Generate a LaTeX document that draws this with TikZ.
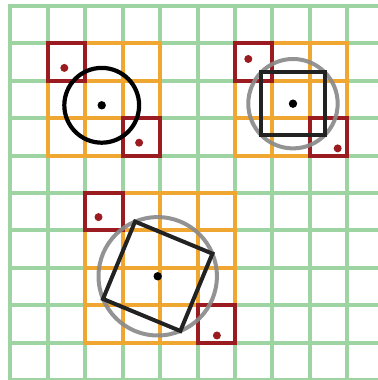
\documentclass[tikz,border=0pt]{standalone}
\usetikzlibrary{calc}
\definecolor{gridgreen}{RGB}{158,212,162}
\definecolor{blockorange}{RGB}{240,167,50}
\definecolor{cellred}{RGB}{155,28,32}
\definecolor{ringgray}{RGB}{138,138,138}
\definecolor{shapeblack}{RGB}{34,34,34}
\tikzset{
  gridline/.style={draw=gridgreen, line width=4pt, line cap=rect},
  blockline/.style={draw=blockorange, line width=4pt, line cap=rect},
  redcell/.style={draw=cellred, line width=4pt, line join=miter},
  reddot/.style={fill=cellred},
  ctrdot/.style={fill=black},
  ring/.style={draw=ringgray, line width=4pt, opacity=0.92},
  blackshape/.style={draw=shapeblack, line width=4pt, line join=miter},
}
\begin{document}
\begin{tikzpicture}[x=37.4pt, y=-37.4pt]
\useasboundingbox (-0.2807,-0.1604) rectangle (9.826,10);
\clip (-0.2807,-0.1604) rectangle (9.826,10);
% green grid
\foreach \i in {0,...,10} {
  \draw[gridline] (\i,0) -- (\i,10.3);
  \draw[gridline] (0,\i) -- (10.3,\i);
}
% ---- top-left cluster ----
\coordinate (c1) at (2.439,2.655);
\foreach \k in {1,...,4} {
  \draw[blockline] (\k,1) -- (\k,4);
  \draw[blockline] (1,\k) -- (4,\k);
}
\draw[redcell] (1,1) rectangle (2,2);
\draw[redcell] (3,3) rectangle (4,4);
\draw[draw=black, line width=4.2pt] (c1) circle[radius=37.4pt];
\fill[ctrdot] (c1) circle[radius=4.2pt];
\fill[reddot] ($(c1)+(-1,-1)$) circle[radius=4pt];
\fill[reddot] ($(c1)+(1,1)$) circle[radius=4pt];
% ---- top-right cluster ----
\coordinate (c2) at (7.553,2.612);
\foreach \k in {6,...,9} {
  \draw[blockline] (\k,1) -- (\k,4);
}
\foreach \k in {1,...,4} {
  \draw[blockline] (6,\k) -- (9,\k);
}
\draw[redcell] (6,1) rectangle (7,2);
\draw[redcell] (8,3) rectangle (9,4);
\draw[ring] (c2) circle[radius=44.7pt];
\draw[blackshape] ($(c2)+(-0.845,-0.845)$) rectangle ($(c2)+(0.845,0.845)$);
\fill[ctrdot] (c2) circle[radius=4.2pt];
\fill[reddot] ($(c2)+(-1.195,-1.195)$) circle[radius=4pt];
\fill[reddot] ($(c2)+(1.195,1.195)$) circle[radius=4pt];
% ---- bottom cluster ----
\coordinate (c3) at (3.936,7.227);
\foreach \k in {2,...,6} {
  \draw[blockline] (\k,5) -- (\k,9);
}
\foreach \k in {5,...,9} {
  \draw[blockline] (2,\k) -- (6,\k);
}
\draw[redcell] (2,5) rectangle (3,6);
\draw[redcell] (5,8) rectangle (6,9);
\draw[ring] (c3) circle[radius=59.2pt];
\draw[blackshape] ($(c3)+(-22.5:1.583)$) -- ($(c3)+(67.5:1.583)$) -- ($(c3)+(157.5:1.583)$) -- ($(c3)+(247.5:1.583)$) -- cycle;
\fill[ctrdot] (c3) circle[radius=4.2pt];
\fill[reddot] ($(c3)+(-1.583,-1.583)$) circle[radius=4pt];
\fill[reddot] ($(c3)+(1.583,1.583)$) circle[radius=4pt];
\end{tikzpicture}
\end{document}
